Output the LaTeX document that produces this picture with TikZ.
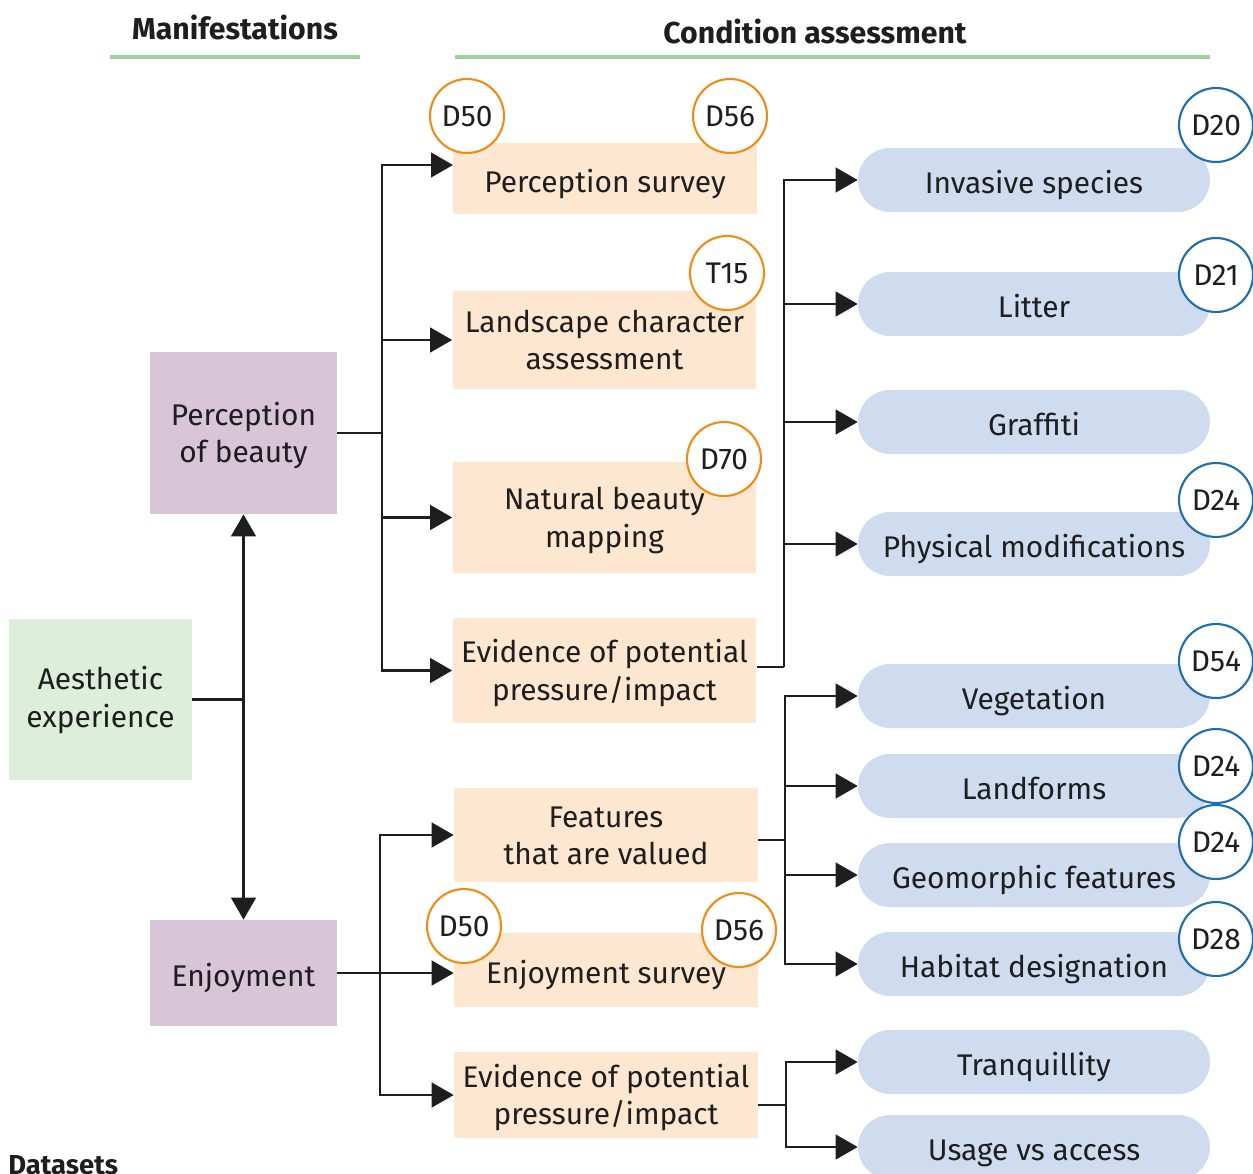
\documentclass[tikz,border=0pt]{standalone}
\usepackage{fontspec}
\setmainfont{Fira Sans}
\usetikzlibrary{positioning, arrows.meta, calc}

\definecolor{inkdark}{HTML}{1E1E1E}
\definecolor{rulegreen}{HTML}{A0D0A0}
\definecolor{expgreen}{HTML}{DDEEDA}
\definecolor{manpurple}{HTML}{D8C5D8}
\definecolor{methodfill}{HTML}{FEE7D0}
\definecolor{condfill}{HTML}{CFDCEF}
\definecolor{badgeorange}{HTML}{F08C14}
\definecolor{badgeblue}{HTML}{1E6EAF}

\tikzset{
  base/.style={inner sep=0pt, align=center, text=inkdark, font=\fontsize{17}{21.5}\selectfont},
  head/.style={inner sep=0pt, text=inkdark, font=\fontsize{17.2}{20}\selectfont\bfseries},
  oneline/.style={text height=15.5pt, text depth=0pt},
  twoline/.style={text height=37pt, text depth=3pt},
  expbox/.style={base, fill=expgreen, minimum width=3.66cm, minimum height=3.22cm},
  manbox/.style={base, fill=manpurple, minimum width=3.74cm},
  method/.style={base, fill=methodfill, minimum width=6.08cm},
  cond/.style={base, oneline, text height=15pt, fill=condfill, minimum width=7.04cm, minimum height=1.28cm, rounded corners=0.64cm},
  badgeO/.style={base, circle, draw=badgeorange, line width=1.2pt, fill=white, minimum size=1.48cm},
  badgeB/.style={badgeO, draw=badgeblue},
  link/.style={draw=inkdark, line width=1.4pt},
  arr/.style={link, -{Triangle[length=12.5pt, width=14pt]}},
  rulebar/.style={draw=rulegreen, line width=2.8pt},
}

\begin{document}
\begin{tikzpicture}[x=0.02cm, y=-0.02cm]
  \useasboundingbox (0,0) rectangle (1253,1173);

  % headings
  \node[head, anchor=base] (hman) at (235,39) {Manifestations};
  \node[head, anchor=base] (hcond) at (815,43) {Condition assessment};
  \draw[rulebar] (110,57) -- (360,57);
  \draw[rulebar] (455,57) -- (1210,57);
  \node[head, font=\fontsize{15.6}{18}\selectfont\bfseries, anchor=base west] (hdata) at (8,1174) {Datasets};

  % manifestations
  \node[expbox, twoline, text height=35pt] (aes) at (100.5,699.5) {Aesthetic\\experience};
  \node[manbox, twoline, minimum height=3.24cm] (pob) at (243.5,433) {Perception\\of beauty};
  \node[manbox, oneline, text height=15pt, minimum height=2.12cm] (enj) at (243.5,973) {Enjoyment};

  % methods
  \node[method, oneline, minimum height=1.42cm] (psurv) at (605,178.5) {Perception survey};
  \node[method, twoline, minimum height=1.96cm] (lca) at (604.5,340) {Landscape character\\assessment};
  \node[method, twoline, minimum height=2.22cm] (nbm) at (604.5,517.5) {Natural beauty\\mapping};
  \node[method, twoline, minimum height=2.10cm] (evA) at (604.5,670.5) {Evidence of potential\\pressure/impact};
  \node[method, twoline, minimum height=1.88cm] (feat) at (606,835) {Features\\that are valued};
  \node[method, oneline, minimum height=1.48cm] (esurv) at (606,970) {Enjoyment survey};
  \node[method, twoline, minimum height=1.72cm] (evB) at (606,1095) {Evidence of potential\\pressure/impact};

  % condition indicators
  \node[cond] (inv) at (1034,180) {Invasive species};
  \node[cond] (lit) at (1034,304) {Litter};
  \node[cond] (graf) at (1034,422) {Graffiti};
  \node[cond] (phys) at (1034,544) {Physical modifications};
  \node[cond] (veg) at (1034,696) {Vegetation};
  \node[cond] (land) at (1034,786) {Landforms};
  \node[cond] (geo) at (1034,875) {Geomorphic features};
  \node[cond] (hab) at (1034,964) {Habitat designation};
  \node[cond] (tranq) at (1034,1062) {Tranquillity};
  \node[cond] (usage) at (1034,1147) {Usage vs access};

  % dataset badges
  \node[badgeO] (bpsA) at (467,116) {D50};
  \node[badgeO] (bpsB) at (730,116) {D56};
  \node[badgeO] (blca) at (727,273) {T15};
  \node[badgeO] (bnbm) at (724,459) {D70};
  \node[badgeO] (besA) at (464,926) {D50};
  \node[badgeO] (besB) at (739,930) {D56};
  \node[badgeB] (binv) at (1216,125) {D20};
  \node[badgeB] (blit) at (1216,275) {D21};
  \node[badgeB] (bphys) at (1216,500) {D24};
  \node[badgeB] (bveg) at (1216,661) {D54};
  \node[badgeB] (bland) at (1216,766) {D24};
  \node[badgeB] (bgeo) at (1216,842) {D24};
  \node[badgeB] (bhab) at (1216,939) {D28};

  % aesthetic experience splits
  \draw[link] (aes.east) -- (aes.east -| pob.south);
  \draw[link, {Triangle[length=12.5pt, width=14pt]}-{Triangle[length=12.5pt, width=14pt]}] (pob.south) -- (enj.north);

  % perception of beauty to methods
  \coordinate (busP) at (382,433);
  \coordinate (psIn) at (453,165);
  \draw[link] (pob.east) -- (busP);
  \draw[arr] (busP) |- (psIn);
  \draw[arr] (busP) |- (lca.west);
  \draw[arr] (busP) |- (nbm.west);
  \draw[arr] (busP) |- (evA.west);

  % enjoyment to methods
  \coordinate (busE) at (380,973);
  \draw[link] (enj.east) -- (busE);
  \draw[arr] (busE) |- (feat.west);
  \draw[arr] (busE) -- (esurv.west |- busE);
  \draw[arr] (busE) |- (evB.west);

  % pressure evidence to indicators
  \coordinate (busA) at (784,667);
  \draw[link] (evA.east |- busA) -- (busA);
  \foreach \t in {inv, lit, graf, phys}
    \draw[arr] (busA) |- (\t.west);

  % valued features to indicators
  \coordinate (busF) at (785,840);
  \draw[link] (feat.east |- busF) -- (busF);
  \foreach \t in {veg, land, geo, hab}
    \draw[arr] (busF) |- (\t.west);

  % bottom evidence to indicators
  \coordinate (busB) at (786,1105);
  \draw[link] (evB.east |- busB) -- (busB);
  \foreach \t in {tranq, usage}
    \draw[arr] (busB) |- (\t.west);
\end{tikzpicture}
\end{document}
